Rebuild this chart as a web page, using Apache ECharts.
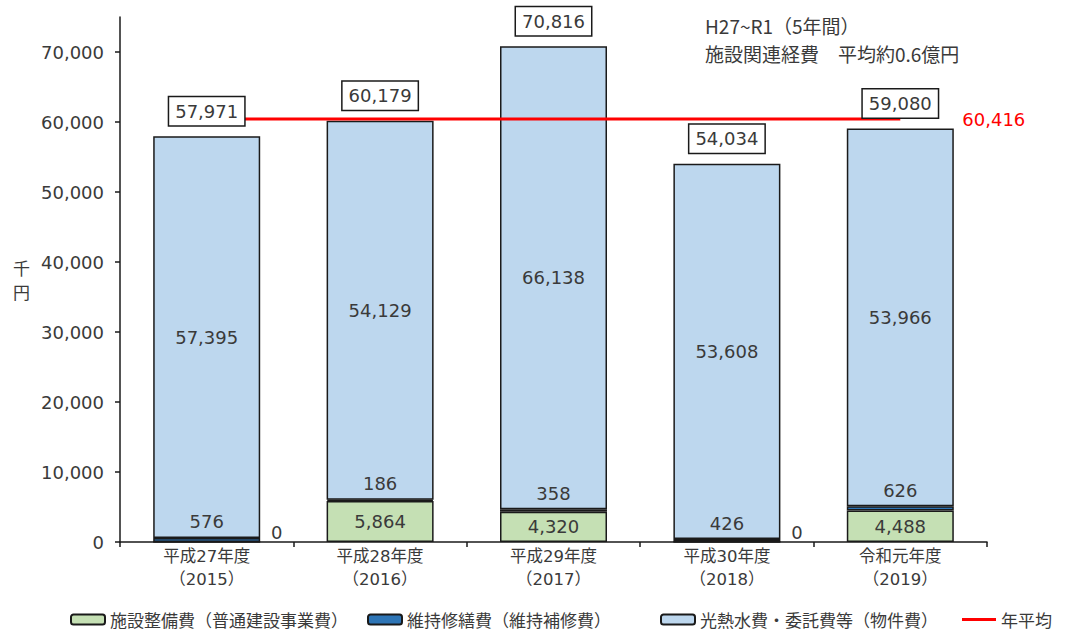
<!DOCTYPE html>
<html>
<head>
<meta charset="utf-8">
<script src="https://cdn.jsdelivr.net/npm/echarts@6/dist/echarts.min.js"></script>
<style>
  html, body { margin: 0; padding: 0; background: #fff; }
  #chart { width: 1065px; height: 632px; }
</style>
</head>
<body>
<div id="chart"></div>
<script>
// 施設関連経費（千円）H27〜R1
var categories = ['平成27年度\n（2015）', '平成28年度\n（2016）', '平成29年度\n（2017）', '平成30年度\n（2018）', '令和元年度\n（2019）'];
var constructionCost = [0, 5864, 4320, 0, 4488];      // 施設整備費（普通建設事業費）
var maintenanceCost = [576, 186, 358, 426, 626];      // 維持修繕費（維持補修費）
var operatingCost = [57395, 54129, 66138, 53608, 53966]; // 光熱水費・委託費等（物件費）
var yTicks = [0, 10000, 20000, 30000, 40000, 50000, 60000, 70000];

var names = ['施設整備費（普通建設事業費）', '維持修繕費（維持補修費）', '光熱水費・委託費等（物件費）', '年平均'];

var totals = categories.map(function (_, i) {
  return constructionCost[i] + maintenanceCost[i] + operatingCost[i];
});
var average = totals.reduce(function (a, b) { return a + b; }, 0) / totals.length;
var averageLine = categories.map(function () { return average; });

function fmt(n) {
  return String(Math.round(n)).replace(/\B(?=(\d{3})+(?!\d))/g, ',');
}

var numFont = "'DejaVu Sans', 'Noto Sans CJK JP', sans-serif";
var jpFont = "'Noto Sans CJK JP', sans-serif";
var textColor = '#3a3a3a';
var border = { borderColor: '#1a1a1a', borderWidth: 1.5 };

var chart = echarts.init(document.getElementById('chart'), null, { renderer: 'svg' });

function legendAt(left, name, opts) {
  return Object.assign({
    data: [name], left: left, top: 611, padding: 0, itemWidth: 34, itemHeight: 10, itemGap: 4,
    textStyle: { fontFamily: jpFont, fontSize: 17, color: textColor }, selectedMode: false
  }, opts || {});
}

chart.setOption({
  animation: false,
  backgroundColor: '#fff',
  grid: { left: 120, right: 78, top: 17, bottom: 90 },
  title: {
    text: 'H27~R1（5年間）\n施設関連経費　平均約0.6億円',
    left: 700, top: 6,
    textStyle: { fontFamily: jpFont, fontSize: 19, fontWeight: 'normal', color: textColor, lineHeight: 28 }
  },
  legend: [
    legendAt(70, names[0]),
    legendAt(367, names[1]),
    legendAt(660, names[2]),
    legendAt(962, names[3], { data: [{ name: names[3], icon: 'rect' }], itemHeight: 3 })
  ],
  xAxis: {
    type: 'category',
    data: categories,
    axisLine: { lineStyle: { color: '#1a1a1a', width: 1.5 } },
    axisTick: { show: true, length: 5, lineStyle: { color: '#1a1a1a', width: 1.5 } },
    axisLabel: { fontFamily: numFont, fontSize: 16.5, color: textColor, lineHeight: 23, margin: 3 }
  },
  yAxis: {
    type: 'value', min: 0, max: 75000, interval: 10000,
    name: '千\n円', nameLocation: 'middle', nameRotate: 0, nameGap: 90,
    nameTextStyle: { fontFamily: jpFont, fontSize: 17, color: textColor, lineHeight: 24 },
    axisLine: { show: true, lineStyle: { color: '#1a1a1a', width: 1.5 } },
    axisTick: { show: true, length: 5, customValues: yTicks, lineStyle: { color: '#1a1a1a', width: 1.5 } },
    axisLabel: {
      customValues: yTicks, fontFamily: numFont, fontSize: 18, color: textColor, margin: 16,
      formatter: function (v) { return fmt(v); }
    },
    splitLine: { show: false }
  },
  series: [
    {
      name: names[0], type: 'bar', stack: 'cost', barWidth: 107, z: 2,
      itemStyle: Object.assign({ color: '#c5e0b4' }, border),
      label: {
        show: true, position: 'inside', fontFamily: numFont, fontSize: 18, color: textColor,
        formatter: function (p) { return fmt(p.value); }
      },
      data: constructionCost.map(function (v) {
        return v === 0
          ? { value: v, label: { position: 'right', distance: 10, offset: [0, -10] } }
          : v;
      })
    },
    {
      name: names[1], type: 'bar', stack: 'cost', barWidth: 107, z: 2,
      itemStyle: Object.assign({ color: '#2e75b6' }, border),
      label: {
        show: true, position: 'top', distance: 7, fontFamily: numFont, fontSize: 18, color: textColor,
        formatter: function (p) { return fmt(p.value); }
      },
      data: maintenanceCost
    },
    {
      name: names[2], type: 'bar', stack: 'cost', barWidth: 107, z: 2,
      itemStyle: Object.assign({ color: '#bdd7ee' }, border),
      label: {
        show: true, position: 'inside', fontFamily: numFont, fontSize: 18, color: textColor,
        formatter: function (p) { return fmt(p.value); }
      },
      data: operatingCost
    },
    {
      name: names[3], type: 'line', symbol: 'none', z: 3,
      lineStyle: { color: '#ff0000', width: 3 },
      itemStyle: { color: '#ff0000' },
      endLabel: {
        show: true, distance: 62, fontFamily: numFont, fontSize: 18, color: '#ff0000',
        formatter: function (p) { return fmt(p.value); }
      },
      data: averageLine
    },
    {
      name: 'total', type: 'scatter', symbolSize: 0, z: 5, silent: true,
      itemStyle: { opacity: 1 },
      label: {
        show: true, position: 'top', distance: 11,
        fontFamily: numFont, fontSize: 18, color: textColor, lineHeight: 22,
        backgroundColor: '#fff', borderColor: '#1a1a1a', borderWidth: 1.5,
        padding: [3, 6, 3, 6],
        formatter: function (p) { return fmt(p.value); }
      },
      data: totals
    }
  ]
});
</script>
</body>
</html>
